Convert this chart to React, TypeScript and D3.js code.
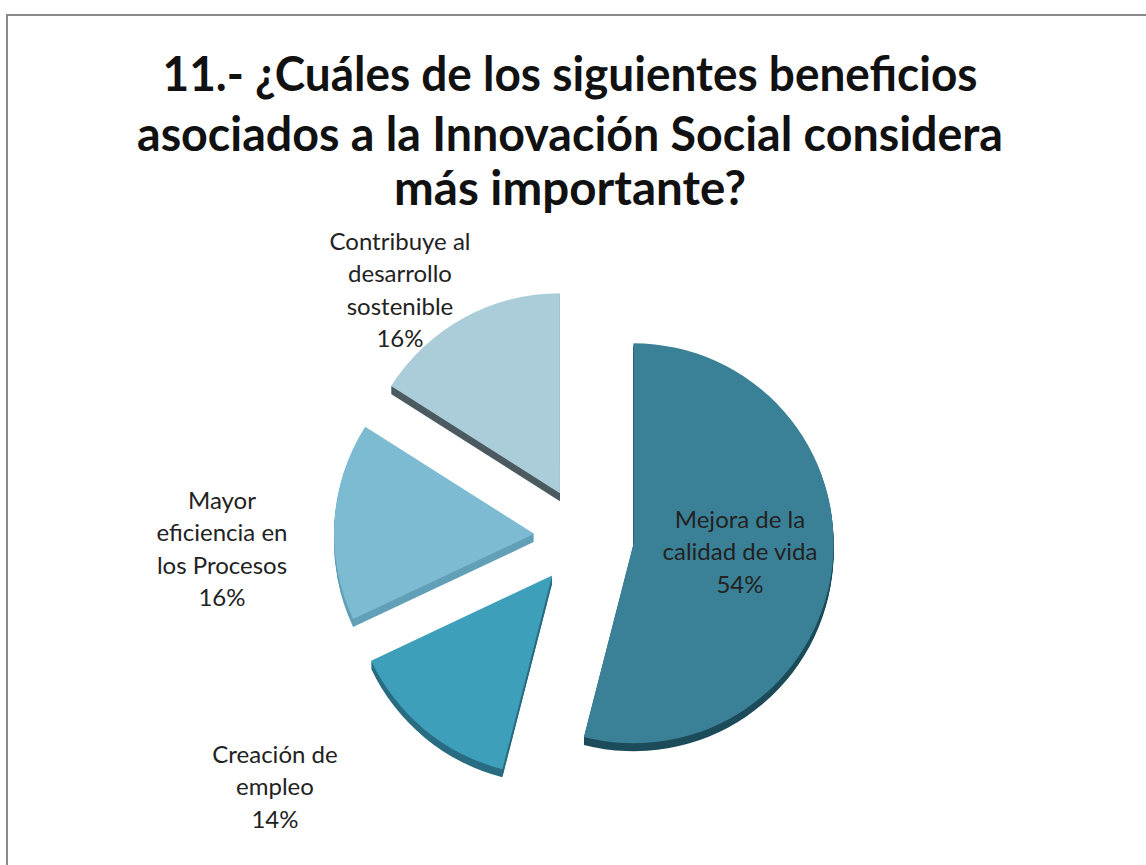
import React from "react";
import * as d3 from "d3";

const categories = [
  "Mejora de la calidad de vida",
  "Creación de empleo",
  "Mayor eficiencia en los Procesos",
  "Contribuye al desarrollo sostenible",
];
const percents = [54, 14, 16, 16];
const labelLines = [
  ["Mejora de la", "calidad de vida", "54%"],
  ["Creación de", "empleo", "14%"],
  ["Mayor", "eficiencia en", "los Procesos", "16%"],
  ["Contribuye al", "desarrollo", "sostenible", "16%"],
];
const titleLines = [
  "11.- ¿Cuáles de los siguientes beneficios",
  "asociados a la Innovación Social considera",
  "más importante?",
];

const faceColors = ["#3a8197", "#3e9fbb", "#7cbbd2", "#aacdd9"];
const wallColors = ["#1d4c5a", "#2a6d82", "#62a0b8", "#4d5b61"];

// layout
const W = 1146;
const H = 865;
const CX = 584;
const CY = 537;
const R = 200;
const EXPLODE = 50;
const DEPTH = 8;
const LINE_H = 32.5;
const labelCenters = [
  [740, 552],
  [275, 787],
  [222, 549],
  [400, 290],
];
const titleLayout = [
  { y: 91, w: 815 },
  { y: 151, w: 866 },
  { y: 205, w: 352 },
];

export default function App() {
  const pie = d3
    .pie<number>()
    .sort(null)
    .startAngle(0)
    .endAngle(2 * Math.PI)
    .value((d) => d);
  const arcs = pie(percents);
  const arcGen = d3.arc<d3.PieArcDatum<number>>().innerRadius(0).outerRadius(R);

  const depthSteps = d3.range(DEPTH, 0, -1);

  return (
    <svg
      width={W}
      height={H}
      style={{ position: "absolute", left: 0, top: 0, background: "#fff" }}
    >
      <rect x={0} y={0} width={W} height={H} fill="#fff" />
      <rect
        x={7}
        y={15}
        width={W + 20}
        height={H + 20}
        fill="none"
        stroke="#8a8a8a"
        strokeWidth={2}
      />
      <g
        fontFamily="Lato, 'Open Sans', sans-serif"
        fontWeight={700}
        fontSize={47}
        fill="#111"
        textAnchor="middle"
      >
        {titleLines.map((t, i) => (
          <text
            key={i}
            x={570}
            y={titleLayout[i].y}
            textLength={titleLayout[i].w}
            lengthAdjust="spacingAndGlyphs"
          >
            {t}
          </text>
        ))}
      </g>
      {arcs.map((a, i) => {
        const mid = (a.startAngle + a.endAngle) / 2;
        const ox = CX + EXPLODE * Math.sin(mid);
        const oy = CY - EXPLODE * Math.cos(mid);
        const path = arcGen(a) || "";
        return (
          <g key={i} transform={`translate(${ox},${oy})`}>
            {depthSteps.map((d) => (
              <path key={d} d={path} transform={`translate(0,${d})`} fill={wallColors[i]} />
            ))}
            <path d={path} fill={faceColors[i]} />
          </g>
        );
      })}
      <g
        fontFamily="Lato, 'Open Sans', sans-serif"
        fontSize={24}
        fill="#222"
        textAnchor="middle"
      >
        {labelLines.map((lines, i) => {
          const [lx, ly] = labelCenters[i];
          const y0 = ly - ((lines.length - 1) * LINE_H) / 2;
          return (
            <text key={i} x={lx} y={y0}>
              {lines.map((ln, j) => (
                <tspan key={j} x={lx} y={y0 + j * LINE_H} dy="0.35em">
                  {ln}
                </tspan>
              ))}
            </text>
          );
        })}
      </g>
    </svg>
  );
}
